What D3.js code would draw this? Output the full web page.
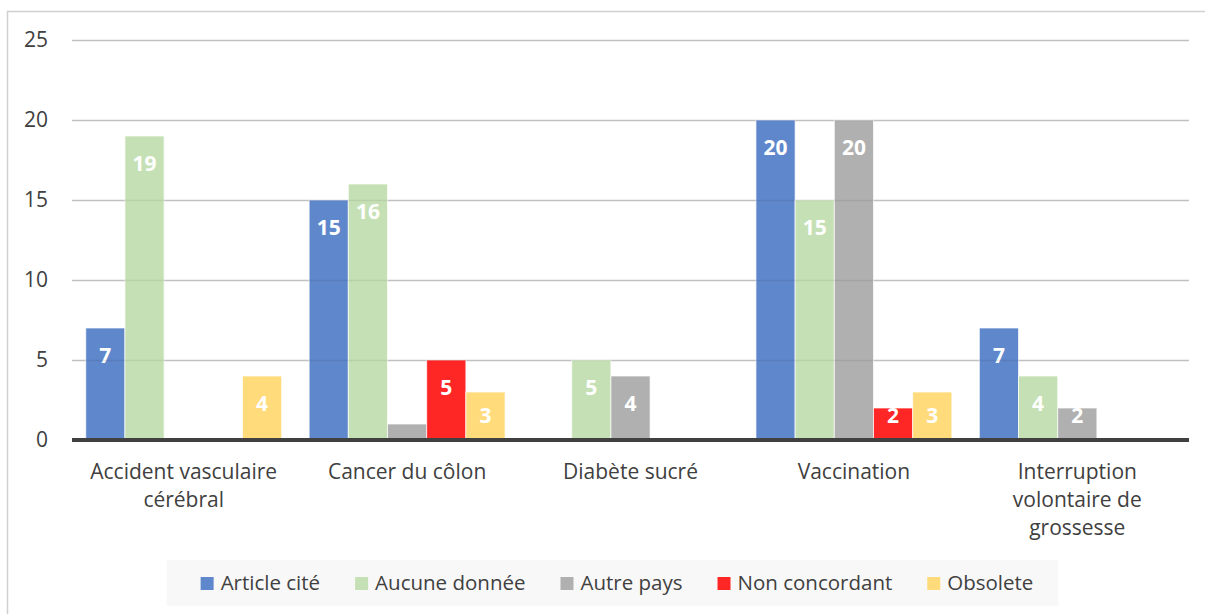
<!DOCTYPE html>
<html>
<head>
<meta charset="utf-8">
<script src="https://cdn.jsdelivr.net/npm/d3@7"></script>
<style>
  body { margin: 0; background: #fff; }
  svg { display: block; font-family: "Open Sans", sans-serif; }
</style>
</head>
<body>
<div id="chart"></div>
<script>
// data
var categories = ["Accident vasculaire cérébral", "Cancer du côlon", "Diabète sucré", "Vaccination", "Interruption volontaire de grossesse"]
var seriesNames = ["Article cité", "Aucune donnée", "Autre pays", "Non concordant", "Obsolete"]
var articleCite = [7, 15, 0, 20, 7]
var aucuneDonnee = [19, 16, 5, 15, 4]
var autrePays = [0, 1, 4, 20, 2]
var nonConcordant = [0, 5, 0, 2, 0]
var obsolete = [4, 3, 0, 3, 0]
var yTicks = [0, 5, 10, 15, 20, 25]

var colors = ["#5f87cc", "#c6e0b5", "#b0b0b0", "#ff2626", "#ffdb7b"]
var seriesValues = [articleCite, aucuneDonnee, autrePays, nonConcordant, obsolete]

var width = 1205, height = 614
var margin = {top: 40, right: 16, bottom: 174, left: 72}

var svg = d3.select("#chart")
  .append("svg")
  .attr("width", width)
  .attr("height", height)

// chart frame
svg.append("rect")
  .attr("x", 7.5)
  .attr("y", 11.5)
  .attr("width", width + 10)
  .attr("height", height + 10)
  .attr("fill", "#fff")
  .attr("stroke", "#d0d0d0")
  .attr("stroke-width", 1.5)

var xScale = d3.scaleBand()
  .domain(categories)
  .range([margin.left, width - margin.right])
  .paddingInner(0.123)
  .paddingOuter(0.0615)

var xInner = d3.scaleBand()
  .domain(seriesNames)
  .range([0, xScale.bandwidth()])

var yScale = d3.scaleLinear()
  .domain([0, 25])
  .range([height - margin.bottom, margin.top])

// grid
var yGrid = d3.axisLeft(yScale)
  .tickValues(yTicks.filter(d => d > 0))
  .tickSize(-(width - margin.right - margin.left))
  .tickFormat("")

svg.append("g")
  .attr("transform", `translate(${margin.left},0)`)
  .attr("class", "grid")
  .call(yGrid)
  .call(g => g.select(".domain").remove())
  .selectAll("line")
  .style("stroke", "#d0d0d0")
  .style("stroke-width", 1.5)

// y axis labels
var yAxis = d3.axisLeft(yScale)
  .tickValues(yTicks)
  .tickSize(0)
  .tickPadding(24)
  .tickFormat(d => d)

svg.append("g")
  .attr("transform", `translate(${margin.left},0)`)
  .call(yAxis)
  .call(g => g.select(".domain").remove())
  .selectAll("text")
  .style("font-size", "21px")
  .style("font-family", "Open Sans, sans-serif")
  .style("fill", "#404040")

// bars
var rows = []
categories.forEach((c, i) => {
  seriesNames.forEach((s, j) => {
    rows.push({cat: c, series: s, value: seriesValues[j][i], color: colors[j]})
  })
})

var barsG = svg.append("g").attr("class", "bars")

barsG.selectAll("rect")
  .data(rows.filter(d => d.value > 0))
  .enter()
  .append("rect")
  .attr("x", d => xScale(d.cat) + xInner(d.series))
  .attr("y", d => yScale(d.value))
  .attr("width", xInner.bandwidth())
  .attr("height", d => yScale(0) - yScale(d.value))
  .attr("fill", d => d.color)
  .attr("stroke", "rgba(255,255,255,0.7)")
  .attr("stroke-width", 1)

// gridlines showing faintly through bars
svg.append("g")
  .attr("transform", `translate(${margin.left},0)`)
  .call(yGrid)
  .call(g => g.select(".domain").remove())
  .selectAll("line")
  .style("stroke", "rgba(0,0,0,0.07)")
  .style("stroke-width", 1.5)

// value labels
barsG.selectAll("text")
  .data(rows.filter(d => yScale(0) - yScale(d.value) >= 30))
  .enter()
  .append("text")
  .attr("x", d => xScale(d.cat) + xInner(d.series) + xInner.bandwidth() / 2)
  .attr("y", d => Math.min(yScale(d.value) + 27.5, yScale(0) - 25) + 7.5)
  .attr("text-anchor", "middle")
  .style("font-size", "21px")
  .style("font-weight", "bold")
  .style("fill", "#fff")
  .text(d => d.value)

// baseline
svg.append("line")
  .attr("x1", margin.left)
  .attr("x2", width - margin.right)
  .attr("y1", yScale(0))
  .attr("y2", yScale(0))
  .style("stroke", "#404040")
  .style("stroke-width", 4)

// category labels, wrapped
var catLabels = svg.append("g")
  .selectAll("text")
  .data(categories)
  .enter()
  .append("text")
  .attr("x", d => xScale(d) + xScale.bandwidth() / 2)
  .attr("y", yScale(0) + 39)
  .attr("text-anchor", "middle")
  .style("font-size", "21px")
  .style("fill", "#404040")

catLabels.each(function(d) {
  var el = d3.select(this)
  var words = d.split(" ")
  var line = []
  var x = el.attr("x")
  var tspan = el.append("tspan").attr("x", x).attr("dy", 0)
  words.forEach(w => {
    line.push(w)
    tspan.text(line.join(" "))
    if (tspan.node().getComputedTextLength() > 205 && line.length > 1) {
      line.pop()
      tspan.text(line.join(" "))
      line = [w]
      tspan = el.append("tspan").attr("x", x).attr("dy", 28).text(w)
    }
  })
})

// legend
var legend = svg.append("g").attr("class", "legend")
var legendBg = legend.append("rect")
  .attr("y", 560)
  .attr("height", 46)
  .attr("fill", "#f8f8f8")

var gap = 35
var cursor = 0
seriesNames.forEach((s, j) => {
  var item = legend.append("g")
  item.append("rect")
    .attr("x", cursor)
    .attr("y", 577)
    .attr("width", 13)
    .attr("height", 13)
    .attr("fill", colors[j])
  var t = item.append("text")
    .attr("x", cursor + 20)
    .attr("y", 590)
    .style("font-size", "20.5px")
    .style("fill", "#404040")
    .text(s)
  cursor += 20 + t.node().getComputedTextLength() + gap
})
var legendW = cursor - gap
var legendX = 617 - legendW / 2
legend.selectAll("g").attr("transform", `translate(${legendX},0)`)
legendBg.attr("x", legendX - 34).attr("width", legendW + 34 + 25)
</script>
</body>
</html>
